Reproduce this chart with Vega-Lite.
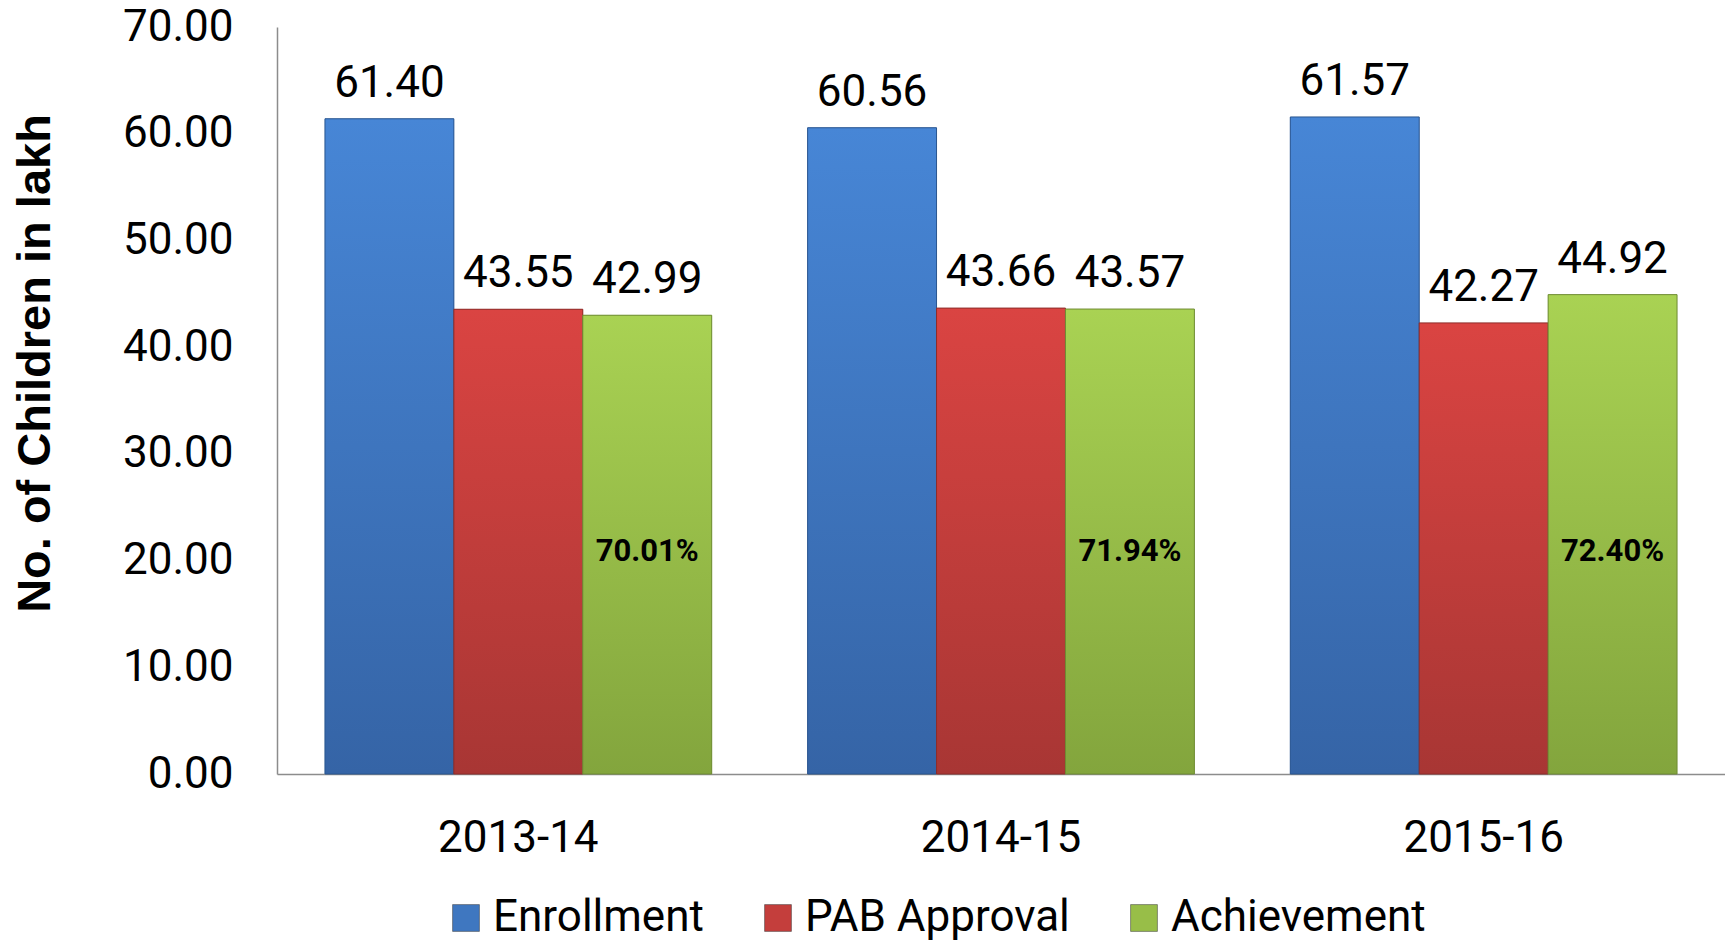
{
  "$schema": "https://vega.github.io/schema/vega-lite/v6.json",
  "width": 1448,
  "height": 747,
  "autosize": {"type": "none"},
  "padding": {"left": 277, "top": 27, "right": 0, "bottom": 167},
  "background": "white",
  "config": {"view": {"stroke": null}, "font": "Roboto"},
  "data": {
    "values": [
      {"year": "2013-14", "series": "Enrollment", "value": 61.40, "pct": ""},
      {"year": "2013-14", "series": "PAB Approval", "value": 43.55, "pct": ""},
      {"year": "2013-14", "series": "Achievement", "value": 42.99, "pct": "70.01%"},
      {"year": "2014-15", "series": "Enrollment", "value": 60.56, "pct": ""},
      {"year": "2014-15", "series": "PAB Approval", "value": 43.66, "pct": ""},
      {"year": "2014-15", "series": "Achievement", "value": 43.57, "pct": "71.94%"},
      {"year": "2015-16", "series": "Enrollment", "value": 61.57, "pct": ""},
      {"year": "2015-16", "series": "PAB Approval", "value": 42.27, "pct": ""},
      {"year": "2015-16", "series": "Achievement", "value": 44.92, "pct": "72.40%"}
    ]
  },
  "encoding": {
    "x": {
      "field": "year", "type": "nominal",
      "scale": {"paddingInner": 0, "paddingOuter": 0},
      "axis": {
        "title": null, "labelAngle": 0, "ticks": false, "domain": true,
        "domainColor": "#8c8c8c", "domainWidth": 1.5,
        "labelFontSize": 44, "labelColor": "#000000", "labelPadding": 42
      }
    },
    "xOffset": {
      "field": "series", "type": "nominal",
      "sort": ["Enrollment", "PAB Approval", "Achievement"],
      "scale": {"paddingInner": 0, "paddingOuter": 0.372}
    },
    "y": {
      "field": "value", "type": "quantitative",
      "scale": {"domain": [0, 70], "nice": false},
      "axis": {
        "values": [0, 10, 20, 30, 40, 50, 60, 70],
        "format": ".2f", "grid": false, "ticks": false,
        "domain": true, "domainColor": "#8c8c8c", "domainWidth": 1.5,
        "labelFontSize": 44, "labelColor": "#000000", "labelPadding": 44,
        "title": "No. of Children in lakh",
        "titleFont": "Liberation Sans", "titleFontWeight": "bold", "titleFontSize": 47,
        "titleColor": "#000000", "titleAngle": -90,
        "titleX": -242, "titleY": 336, "titleAlign": "center", "titleBaseline": "middle"
      }
    }
  },
  "layer": [
    {
      "mark": {"type": "bar"},
      "encoding": {
        "color": {
          "field": "series", "type": "nominal",
          "sort": ["Enrollment", "PAB Approval", "Achievement"],
          "scale": {
            "domain": ["Enrollment", "PAB Approval", "Achievement"],
            "range": ["#3F77C0", "#C43E3C", "#98BE48"]
          },
          "legend": {
            "orient": "none", "legendX": 167, "legendY": 869,
            "direction": "horizontal", "title": null,
            "symbolType": "square", "symbolSize": 720,
            "symbolStrokeColor": "#333333", "symbolStrokeWidth": 0.5,
            "labelFontSize": 44, "labelColor": "#000000", "labelFont": "Roboto",
            "labelLimit": 0,
            "labelOffset": 5, "columnPadding": 52
          }
        }
      }
    },
    {
      "transform": [{"filter": "datum.series == 'Enrollment'"}],
      "mark": {
        "type": "bar",
        "fill": {"gradient": "linear", "x1": 0, "y1": 0, "x2": 0, "y2": 1,
          "stops": [{"offset": 0, "color": "#4786D6"}, {"offset": 1, "color": "#3564A6"}]},
        "stroke": "#2B5690", "strokeWidth": 1
      }
    },
    {
      "transform": [{"filter": "datum.series == 'PAB Approval'"}],
      "mark": {
        "type": "bar",
        "fill": {"gradient": "linear", "x1": 0, "y1": 0, "x2": 0, "y2": 1,
          "stops": [{"offset": 0, "color": "#DA4442"}, {"offset": 1, "color": "#A83634"}]},
        "stroke": "#8E2C2A", "strokeWidth": 1
      }
    },
    {
      "transform": [{"filter": "datum.series == 'Achievement'"}],
      "mark": {
        "type": "bar",
        "fill": {"gradient": "linear", "x1": 0, "y1": 0, "x2": 0, "y2": 1,
          "stops": [{"offset": 0, "color": "#A9D253"}, {"offset": 1, "color": "#83A53D"}]},
        "stroke": "#6F8C34", "strokeWidth": 1
      }
    },
    {
      "mark": {"type": "text", "baseline": "alphabetic", "dy": -22, "fontSize": 44, "color": "#000000"},
      "encoding": {
        "text": {"field": "value", "type": "quantitative", "format": ".2f"}
      }
    },
    {
      "transform": [{"filter": "datum.series == 'Achievement'"}],
      "mark": {"type": "text", "baseline": "middle", "fontSize": 31, "fontWeight": "bold", "color": "#000000"},
      "encoding": {
        "y": {"datum": 20.8, "type": "quantitative"},
        "text": {"field": "pct", "type": "nominal"}
      }
    }
  ]
}
